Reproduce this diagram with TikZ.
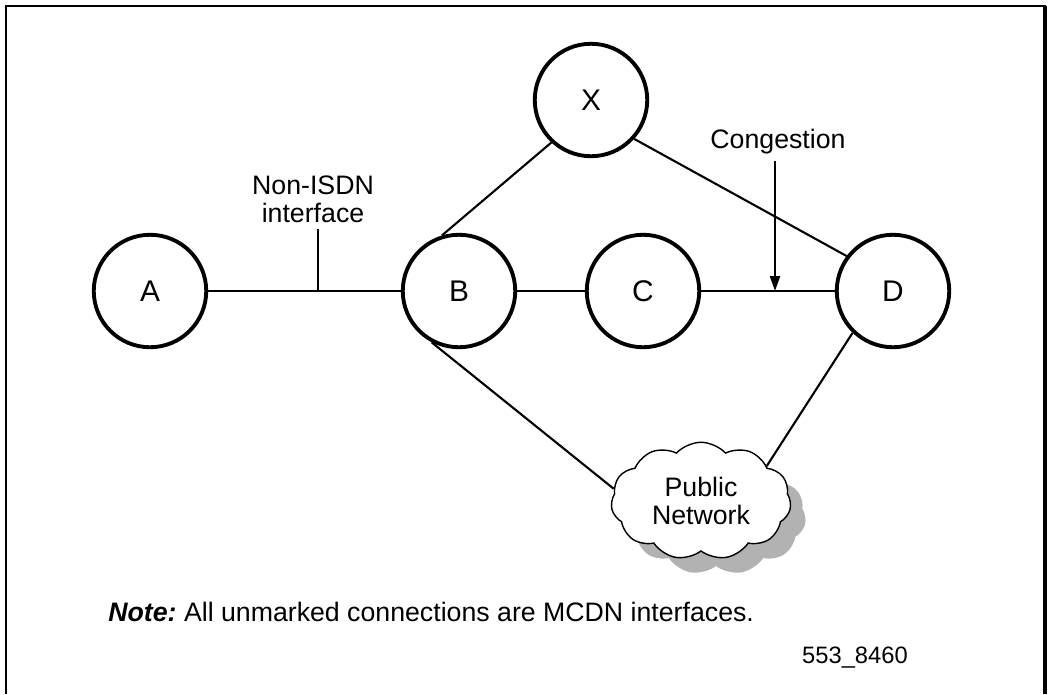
\documentclass[tikz,border=0pt]{standalone}
\usepackage{fontspec}
\setmainfont{Liberation Sans}
\usetikzlibrary{arrows.meta, shapes.symbols}
\newcommand{\labelfont}{\fontsize{15.2}{16}\selectfont}

\begin{document}
\begin{tikzpicture}[x=0.02cm, y=-0.02cm, font=\labelfont,
    site/.style={circle, draw, line width=2.2pt, minimum size=2.25cm, inner sep=0pt,
      font=\fontsize{17}{18}\selectfont},
    link/.style={line width=1.2pt},
    netcloud/.style={cloud, cloud puffs=11, cloud puff arc=95, aspect=1.65,
      minimum width=3.6cm, minimum height=2.35cm, inner sep=0pt, align=center}]
  \useasboundingbox (0,0) rectangle (1049,694);
  % frame
  \draw[line width=1.2pt] (6,694) -- (6,6);
  \draw[line width=1.7pt] (5,6) -- (1046,6);
  \draw[line width=2.2pt] (1045,6) -- (1045,694);

  % sites
  \node[site] (A) at (150,291) {A};
  \node[site] (B) at (459,291) {B};
  \node[site] (C) at (643,291) {C};
  \node[site] (D) at (893,291) {D};
  \node[site] (X) at (591,100) {X};

  % public network with its shadow
  \node[netcloud, fill=black!30] (pubshadow) at (716,516) {\phantom{Network}};
  \node[netcloud, draw, line width=0.8pt, fill=white] (pubnet) at (701,501) {Public\\Network};

  % links
  \draw[link] (A) -- (B);
  \draw[link] (B) -- (C);
  \draw[link] (C) -- (D);
  \draw[link] (X.-133) -- (B.107);
  \draw[link] (X.-42) -- (D.143);
  \draw[link] (B.-118) -- (pubnet.172);
  \draw[link] (D.-134) -- (pubnet.28);

  % labels
  \coordinate (stub) at (318,291);
  \node[align=center] (nonisdn) at (313,199) {Non-ISDN\\interface};
  \draw[link] (stub |- nonisdn.south) -- (stub);

  \coordinate (jam) at (775,291);
  \node (congest) at (778,142) {Congestion};
  \draw[link, -{Triangle[length=8.5pt, width=5.7pt]}] (jam |- congest.south) -- (jam);

  \node[anchor=west, inner sep=0pt] (note) at (108,612)
    {\textbf{\textit{Note:}}\ All unmarked connections are MCDN interfaces.};
  \node[font=\fontsize{13.5}{15}\selectfont] (figid) at (855,658) {553\_8460};
\end{tikzpicture}
\end{document}
